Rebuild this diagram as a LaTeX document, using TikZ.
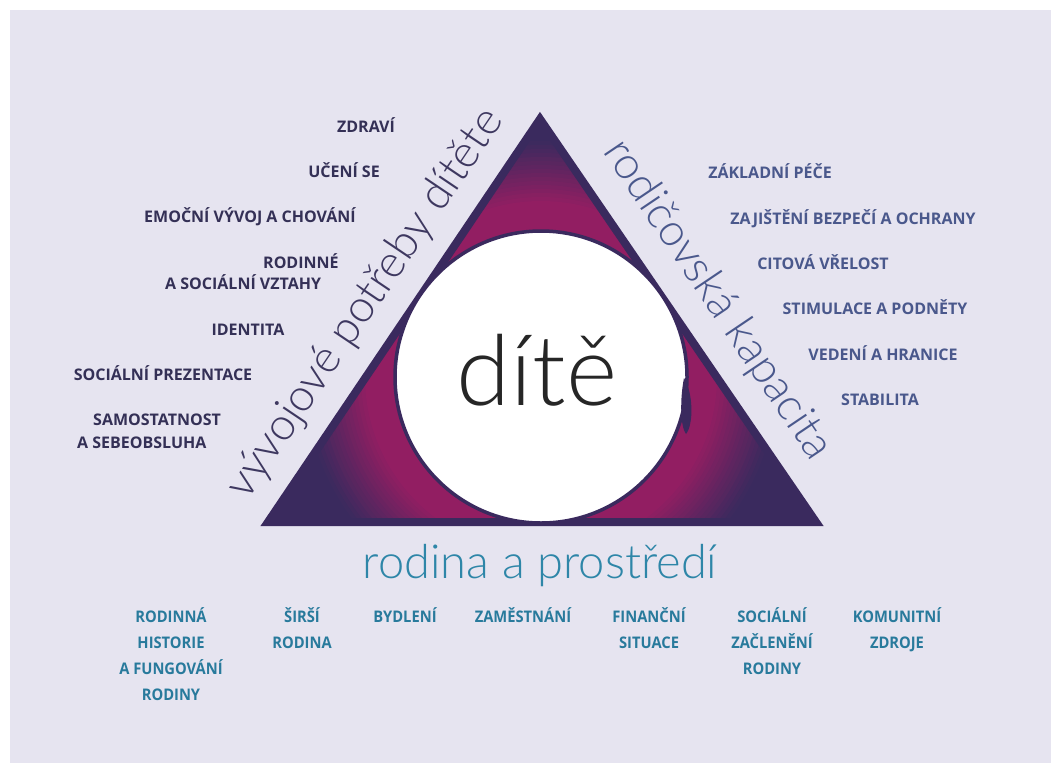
\documentclass[tikz,border=0pt]{standalone}
\usepackage{fontspec}
\setmainfont{Open Sans}
\newfontfamily\thinfont{Lato Light}
\newfontfamily\condfont{Open Sans}[FakeStretch=0.92]
\usetikzlibrary{positioning}
\definecolor{paper}{RGB}{230,228,240}
\definecolor{darktone}{RGB}{58,42,94}
\definecolor{magtone}{RGB}{146,30,98}
\definecolor{needtext}{RGB}{52,48,86}
\definecolor{needbig}{RGB}{62,56,96}
\definecolor{carertext}{RGB}{74,88,140}
\definecolor{hometext}{RGB}{40,122,156}
\definecolor{homebig}{RGB}{46,134,168}
\definecolor{kidtext}{RGB}{38,38,38}
\tikzset{
	need/.style={font=\fontsize{16}{21}\selectfont\bfseries,text=needtext,inner sep=0pt,align=left},
	carer/.style={font=\fontsize{16}{21}\selectfont\bfseries,text=carertext,inner sep=0pt},
	home/.style={font=\condfont\fontsize{16}{26}\selectfont\bfseries,text=hometext,inner sep=0pt,align=center,anchor=north},
	side/.style={font=\thinfont\fontsize{45}{45}\selectfont,inner sep=0pt,anchor=base}
}

\begin{document}
\begin{tikzpicture}[x=1pt,y=-1pt]
            \useasboundingbox (0,0) rectangle (1051,763);
            \fill[white] (0,0) rectangle (1051,763);
            \fill[paper] (10,10) rectangle (1051,763);
            % triangle with the glow round the child
            \coordinate (apex) at (540,119);
            \coordinate (lc) at (268,522);
            \coordinate (rc) at (816,522);
            \coordinate (ctr) at (541,377);
            \begin{scope}
                \clip (apex) -- (lc) -- (rc) -- cycle;
                \foreach \r in {320,316,...,144}{
                    \pgfmathtruncatemacro\mix{min(100,max(0,(238-\r)*100/62))}
                    \fill[magtone!\mix!darktone] (ctr) circle (\r);
                }
            \end{scope}
            \draw[darktone,line width=8pt,line join=miter] (apex) -- (lc) -- (rc) -- cycle;
            \node[circle,fill=white,draw=darktone,line width=3.5pt,minimum size=292pt,inner sep=0pt] (kid) at (ctr) {};
            \fill[darktone] (684,378) .. controls (693,392) and (694,424) .. (686,434) .. controls (680,426) and (680,398) .. (684,378);
            \node[font=\thinfont\fontsize{98}{98}\selectfont,text=kidtext,anchor=base,inner sep=0pt] (kidlabel) at (537,405) {dítě};
            % the three sides
            \node[side,text=needbig,rotate=56] (needs) at (376,311) {vývojové potřeby dítěte};
            \node[side,text=carertext,rotate=-56] (capacity) at (707,307) {rodičovská kapacita};
            \node[side,text=homebig,font=\thinfont\fontsize{47}{47}\selectfont] (env) at (540,578) {rodina a prostředí};
            % needs of the child
            \node[need,anchor=base] (health) at (366,132) {ZDRAVÍ};
            \node[need,anchor=base] (learning) at (344,177) {UČENÍ SE};
            \node[need,anchor=base] (emotion) at (250,222) {EMOČNÍ VÝVOJ A CHOVÁNÍ};
            \node[need,anchor=north west] (relations) at (165,253) {\hspace*{98pt}RODINNÉ\\A SOCIÁLNÍ VZTAHY};
            \node[need,anchor=base] (identity) at (248,335) {IDENTITA};
            \node[need,anchor=base] (presentation) at (163,380) {SOCIÁLNÍ PREZENTACE};
            \node[need,anchor=north west,font=\fontsize{16}{23}\selectfont\bfseries] (selfcare) at (77,414) {\hspace*{16pt}SAMOSTATNOST\\A SEBEOBSLUHA};
            % parenting capacity
            \node[carer,anchor=base] (basiccare) at (770,178) {ZÁKLADNÍ PÉČE};
            \node[carer,anchor=base] (safety) at (853,224) {ZAJIŠTĚNÍ BEZPEČÍ A OCHRANY};
            \node[carer,anchor=base] (warmth) at (823,269) {CITOVÁ VŘELOST};
            \node[carer,anchor=base] (stimulation) at (875,314) {STIMULACE A PODNĚTY};
            \node[carer,anchor=base] (guidance) at (883,360) {VEDENÍ A HRANICE};
            \node[carer,anchor=base] (stability) at (880,405) {STABILITA};
            % family and environment
            \node[home] (history) at (171,607) {RODINNÁ\\HISTORIE\\A FUNGOVÁNÍ\\RODINY};
            \node[home] (wider) at (302,607) {ŠIRŠÍ\\RODINA};
            \node[home] (housing) at (405,607) {BYDLENÍ};
            \node[home] (work) at (523,607) {ZAMĚSTNÁNÍ};
            \node[home] (income) at (649,607) {FINANČNÍ\\SITUACE};
            \node[home] (integration) at (772,607) {SOCIÁLNÍ\\ZAČLENĚNÍ\\RODINY};
            \node[home] (resources) at (897,607) {KOMUNITNÍ\\ZDROJE};
\end{tikzpicture}
\end{document}
